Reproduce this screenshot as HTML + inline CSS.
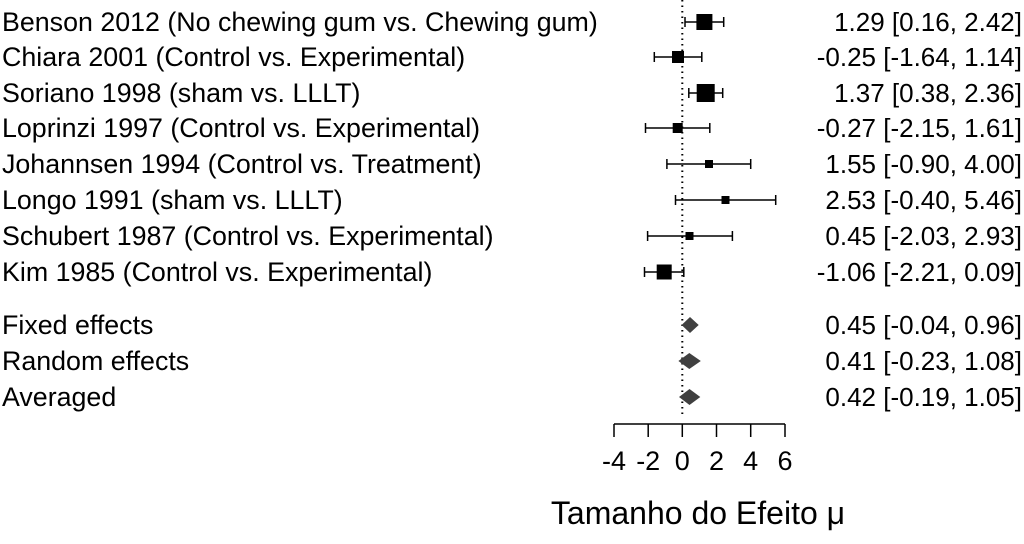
<!DOCTYPE html>
<html><head><style>body{margin:0;background:#fff}svg{display:block}</style></head><body>
<svg width="1024" height="544" xmlns="http://www.w3.org/2000/svg" font-family="Liberation Sans, sans-serif">
<rect width="1024" height="544" fill="#fff"/>
<g font-size="26.8" fill="#000">
<text x="2" y="31">Benson 2012 (No chewing gum vs. Chewing gum)</text>
<text x="2" y="66">Chiara 2001 (Control vs. Experimental)</text>
<text x="2" y="102">Soriano 1998 (sham vs. LLLT)</text>
<text x="2" y="137">Loprinzi 1997 (Control vs. Experimental)</text>
<text x="2" y="173">Johannsen 1994 (Control vs. Treatment)</text>
<text x="2" y="209">Longo 1991 (sham vs. LLLT)</text>
<text x="2" y="245">Schubert 1987 (Control vs. Experimental)</text>
<text x="2" y="281">Kim 1985 (Control vs. Experimental)</text>
<text x="2" y="334">Fixed effects</text>
<text x="2" y="370">Random effects</text>
<text x="2" y="406">Averaged</text>
</g>
<g font-size="26" fill="#000" text-anchor="end">
<text x="1022" y="31">1.29 [0.16, 2.42]</text>
<text x="1022" y="66">-0.25 [-1.64, 1.14]</text>
<text x="1022" y="102">1.37 [0.38, 2.36]</text>
<text x="1022" y="137">-0.27 [-2.15, 1.61]</text>
<text x="1022" y="173">1.55 [-0.90, 4.00]</text>
<text x="1022" y="209">2.53 [-0.40, 5.46]</text>
<text x="1022" y="245">0.45 [-2.03, 2.93]</text>
<text x="1022" y="281">-1.06 [-2.21, 0.09]</text>
<text x="1022" y="334">0.45 [-0.04, 0.96]</text>
<text x="1022" y="370">0.41 [-0.23, 1.08]</text>
<text x="1022" y="406">0.42 [-0.19, 1.05]</text>
</g>
<line x1="682.3" y1="0" x2="682.3" y2="418" stroke="#000" stroke-width="2" stroke-dasharray="1.5,4"/>
<g stroke="#000" stroke-width="1.5" fill="#000">
<line x1="685" y1="22" x2="723.7" y2="22"/><line x1="685" y1="17" x2="685" y2="27"/><line x1="723.7" y1="17" x2="723.7" y2="27"/>
<rect x="696.4" y="14" width="16" height="16" stroke="none"/>
<line x1="654.3" y1="57" x2="701.8" y2="57"/><line x1="654.3" y1="52" x2="654.3" y2="62"/><line x1="701.8" y1="52" x2="701.8" y2="62"/>
<rect x="672" y="51" width="12" height="12" stroke="none"/>
<line x1="688.8" y1="93" x2="722.7" y2="93"/><line x1="688.8" y1="88" x2="688.8" y2="98"/><line x1="722.7" y1="88" x2="722.7" y2="98"/>
<rect x="696.7" y="84" width="18" height="18" stroke="none"/>
<line x1="645.5" y1="128" x2="709.8" y2="128"/><line x1="645.5" y1="123" x2="645.5" y2="133"/><line x1="709.8" y1="123" x2="709.8" y2="133"/>
<rect x="672.7" y="123" width="10" height="10" stroke="none"/>
<line x1="666.9" y1="164" x2="750.7" y2="164"/><line x1="666.9" y1="159" x2="666.9" y2="169"/><line x1="750.7" y1="159" x2="750.7" y2="169"/>
<rect x="705" y="160" width="8" height="8" stroke="none"/>
<line x1="675.5" y1="200" x2="775.7" y2="200"/><line x1="675.5" y1="195" x2="675.5" y2="205"/><line x1="775.7" y1="195" x2="775.7" y2="205"/>
<rect x="721.5" y="196" width="8" height="8" stroke="none"/>
<line x1="647.6" y1="236" x2="732.4" y2="236"/><line x1="647.6" y1="231" x2="647.6" y2="241"/><line x1="732.4" y1="231" x2="732.4" y2="241"/>
<rect x="685.5" y="232" width="8" height="8" stroke="none"/>
<line x1="644.5" y1="272" x2="683.8" y2="272"/><line x1="644.5" y1="267" x2="644.5" y2="277"/><line x1="683.8" y1="267" x2="683.8" y2="277"/>
<rect x="656.7" y="264.5" width="15" height="15" stroke="none"/>
</g>
<g fill="#404040">
<polygon points="681.6,325 690,317 698.7,325 690,333"/>
<polygon points="678.4,361 689.3,353 700.8,361 689.3,369"/>
<polygon points="679,397 689.5,389 700.3,397 689.5,405"/>
</g>
<g stroke="#000" stroke-width="1.5">
<line x1="614" y1="424" x2="785" y2="424"/>
<line x1="614" y1="424" x2="614" y2="437"/>
<line x1="648.2" y1="424" x2="648.2" y2="437"/>
<line x1="682.3" y1="424" x2="682.3" y2="437"/>
<line x1="716.5" y1="424" x2="716.5" y2="437"/>
<line x1="750.7" y1="424" x2="750.7" y2="437"/>
<line x1="785" y1="424" x2="785" y2="437"/>
</g>
<g font-size="27" text-anchor="middle" fill="#000">
<text x="614" y="470">-4</text><text x="648.2" y="470">-2</text><text x="682.3" y="470">0</text>
<text x="716.5" y="470">2</text><text x="750.7" y="470">4</text><text x="785" y="470">6</text>
</g>
<text x="698" y="524" font-size="32" text-anchor="middle" fill="#000">Tamanho do Efeito μ</text>
</svg>
</body></html>
